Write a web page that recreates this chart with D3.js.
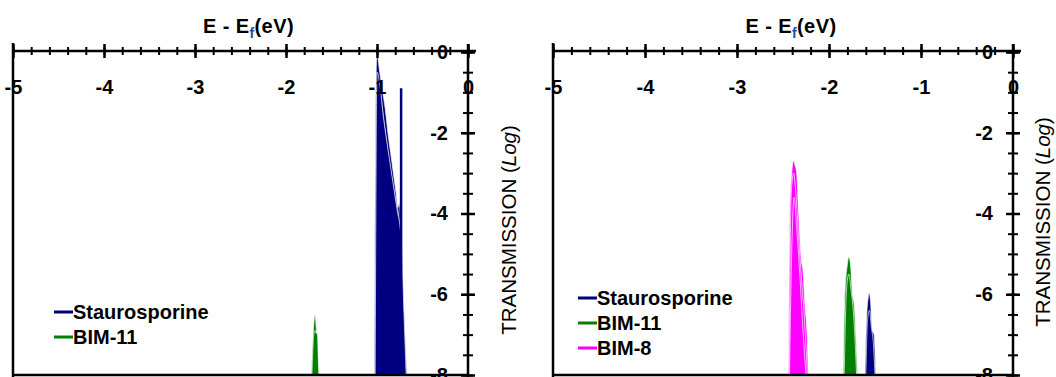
<!DOCTYPE html>
<html>
<head>
<meta charset="utf-8">
<script src="https://cdn.jsdelivr.net/npm/d3@7"></script>
<style>
  html, body { margin: 0; padding: 0; background: #fff; }
  svg { display: block; }
  text { font-family: Arial, 'Liberation Sans', sans-serif; }
</style>
</head>
<body>
<svg id="chart" width="1056" height="377"></svg>
<script>
// tick values and labels
const xMajor = [-5, -4, -3, -2, -1, 0];
const xMinor = d3.range(-50, 1, 2).map(d => d / 10);
const yMajor = [0, -2, -4, -6, -8];
const yMinor = d3.range(-16, 1).map(d => d / 2);

const legendLeft = ['Staurosporine', 'BIM-11'];
const legendRight = ['Staurosporine', 'BIM-11', 'BIM-8'];
const colorOf = {'Staurosporine': '#000080', 'BIM-11': '#008000', 'BIM-8': '#ff00ff'};

// left panel curves: [E - Ef, log T]
const stauroLeftA = [[-1.03,-8],[-1.02,-3],[-1.01,-0.6],[-1.0,-0.05],[-0.97,-0.5],[-0.93,-1.1],[-0.91,-1.4],[-0.88,-2.0],[-0.85,-2.5],[-0.82,-3.0],[-0.79,-3.5],[-0.77,-3.85],[-0.755,-3.75],[-0.74,-4.2],[-0.72,-5.2],[-0.70,-6.5],[-0.67,-8]];
const stauroLeftB = [[-1.02,-8],[-1.0,-0.5],[-0.97,-0.8],[-0.93,-1.6],[-0.88,-2.4],[-0.82,-3.3],[-0.78,-3.9],[-0.74,-4.5],[-0.70,-6.7],[-0.68,-8]];
const stauroLeftC = [[-1.025,-8],[-1.01,-1.0],[-0.98,-0.9],[-0.92,-1.8],[-0.86,-2.8],[-0.80,-3.6],[-0.76,-4.1],[-0.72,-5.5],[-0.69,-8]];
const stauroLeftSpike = [[-0.735,-8],[-0.735,-0.9]];
const bim11LeftA = [[-1.722,-8],[-1.70,-6.9],[-1.69,-6.6],[-1.681,-6.5],[-1.672,-6.7],[-1.66,-7.1],[-1.65,-7.5],[-1.635,-8]];
const bim11LeftB = [[-1.715,-8],[-1.695,-7.0],[-1.68,-6.9],[-1.665,-6.97],[-1.655,-6.97],[-1.645,-7.6],[-1.64,-8]];

// right panel curves
const bim8RightA = [[-2.442,-8],[-2.424,-3.83],[-2.405,-3.0],[-2.388,-2.69],[-2.37,-2.8],[-2.351,-3.0],[-2.33,-4.0],[-2.304,-5.07],[-2.28,-5.5],[-2.261,-6.3],[-2.24,-6.9],[-2.225,-8]];
const bim8RightB = [[-2.435,-8],[-2.41,-3.5],[-2.385,-3.0],[-2.36,-3.5],[-2.33,-4.6],[-2.30,-5.6],[-2.27,-6.5],[-2.235,-8]];
const bim8RightC = [[-2.43,-8],[-2.40,-4.5],[-2.38,-3.6],[-2.35,-4.4],[-2.31,-5.8],[-2.28,-7.0],[-2.25,-8]];
const bim11RightA = [[-1.845,-8],[-1.83,-6.2],[-1.80,-5.25],[-1.783,-5.07],[-1.765,-5.3],[-1.745,-6.0],[-1.725,-6.3],[-1.71,-6.96],[-1.69,-8]];
const bim11RightB = [[-1.835,-8],[-1.81,-5.9],[-1.785,-5.5],[-1.76,-5.9],[-1.73,-6.6],[-1.70,-8]];
const stauroRightA = [[-1.609,-8],[-1.595,-6.8],[-1.575,-6.1],[-1.562,-5.97],[-1.548,-6.2],[-1.53,-6.9],[-1.51,-7.0],[-1.50,-7.4],[-1.492,-8]];
const stauroRightB = [[-1.60,-8],[-1.58,-6.6],[-1.56,-6.4],[-1.54,-6.8],[-1.515,-7.3],[-1.50,-8]];

const svg = d3.select('#chart');
const plotTop = 51, plotBottom = 375;
const fmt = d => String(d); // plain hyphen minus like the original

function drawPanel(x0, x1, id, areas, spikes, legend, legendX, legendY, ylabX, ylabY) {
  const x = d3.scaleLinear().domain([-5, 0]).range([x0, x1]);
  const y = d3.scaleLinear().domain([-8, 0]).range([plotBottom, plotTop + 1]);
  const g = svg.append('g');

  g.append('clipPath').attr('id', id).append('rect')
    .attr('x', x0).attr('y', plotTop).attr('width', x1 - x0).attr('height', plotBottom - plotTop);

  const area = d3.area()
    .x(d => x(d[0])).y0(y(-8)).y1(d => y(d[1]))
    .curve(d3.curveMonotoneX);

  const plot = g.append('g').attr('clip-path', `url(#${id})`);
  plot.selectAll('path.curve')
    .data(areas).join('path')
    .attr('class', 'curve')
    .attr('d', d => area(d.pts))
    .attr('fill', d => colorOf[d.name])
    .attr('stroke', '#fff')
    .attr('stroke-width', 0.7);

  plot.selectAll('line.spike')
    .data(spikes).join('line')
    .attr('class', 'spike')
    .attr('x1', d => x(d.pts[0][0])).attr('x2', d => x(d.pts[1][0]))
    .attr('y1', d => y(d.pts[0][1])).attr('y2', d => y(d.pts[1][1]))
    .attr('stroke', d => colorOf[d.name]).attr('stroke-width', 2.5);

  // frame
  const frame = g.append('g').attr('stroke', '#000').attr('stroke-width', 2.5);
  frame.append('line').attr('x1', x0).attr('x2', x0).attr('y1', 43).attr('y2', 377);
  frame.append('line').attr('x1', x0).attr('x2', x1).attr('y1', plotBottom).attr('y2', plotBottom);
  frame.append('line').attr('x1', x0).attr('x2', x1 + 8).attr('y1', plotTop).attr('y2', plotTop);
  frame.append('line').attr('x1', x1).attr('x2', x1).attr('y1', 44).attr('y2', 377);

  // top x axis, ticks crossing the line
  const xMin = g.append('g').attr('transform', `translate(0,${plotTop})`)
    .call(d3.axisBottom(x).tickValues(xMinor).tickFormat('').tickSizeOuter(0));
  xMin.selectAll('.tick line').attr('y1', -4).attr('y2', 4).attr('stroke-width', 2);
  const xMaj = g.append('g').attr('transform', `translate(0,${plotTop})`)
    .call(d3.axisBottom(x).tickValues(xMajor).tickFormat(fmt).tickSizeOuter(0));
  xMaj.selectAll('.tick line').attr('y1', -7).attr('y2', 7).attr('stroke-width', 2.5);
  xMaj.selectAll('.tick text').attr('y', 29).attr('dy', '0.71em')
    .style('font-size', '20px').style('font-weight', 'bold').attr('fill', '#000');
  g.selectAll('.domain').remove();

  // right y axis
  const yMin = g.append('g').attr('transform', `translate(${x1},0)`)
    .call(d3.axisLeft(y).tickValues(yMinor).tickFormat('').tickSizeOuter(0));
  yMin.selectAll('.tick line').attr('x1', -5).attr('x2', 5).attr('stroke-width', 2);
  const yMaj = g.append('g').attr('transform', `translate(${x1},0)`)
    .call(d3.axisLeft(y).tickValues(yMajor).tickFormat(fmt).tickSize(7).tickPadding(13).tickSizeOuter(0));
  yMaj.selectAll('.tick line').attr('x1', -7).attr('x2', 7).attr('stroke-width', 2.5);
  yMaj.selectAll('.tick text')
    .style('font-size', '20px').style('font-weight', 'bold').attr('fill', '#000');
  g.selectAll('.domain').remove();

  // title
  const t = g.append('text')
    .attr('x', (x0 + x1) / 2 + 8).attr('y', 33)
    .attr('text-anchor', 'middle')
    .style('font-size', '20px').style('font-weight', 'bold')
    .style('letter-spacing', '0.4px');
  t.append('tspan').text('E - E');
  t.append('tspan').text('f').attr('dy', 5).style('font-size', '14px').attr('fill', '#1f4f9c');
  t.append('tspan').text('(eV)').attr('dy', -5);

  // y label
  const yl = g.append('text')
    .attr('transform', `translate(${ylabX},${ylabY}) rotate(-90)`)
    .attr('text-anchor', 'middle')
    .style('font-size', '20.5px');
  yl.append('tspan').text('TRANSMISSION (');
  yl.append('tspan').text('Log').style('font-style', 'italic');
  yl.append('tspan').text(')');

  // legend
  const lg = g.append('g').selectAll('g')
    .data(legend).join('g')
    .attr('transform', (d, i) => `translate(${legendX},${legendY + i * 25})`);
  lg.append('line').attr('x1', 0).attr('x2', 19)
    .attr('stroke', d => colorOf[d]).attr('stroke-width', 3);
  lg.append('text').attr('x', 19).attr('dy', '0.36em')
    .style('font-size', '20px').style('font-weight', 'bold')
    .text(d => d);
}

drawPanel(13, 468, 'clipL',
  [
    {name: 'Staurosporine', pts: stauroLeftA},
    {name: 'Staurosporine', pts: stauroLeftC},
    {name: 'Staurosporine', pts: stauroLeftB},
    {name: 'BIM-11', pts: bim11LeftA},
    {name: 'BIM-11', pts: bim11LeftB}
  ],
  [{name: 'Staurosporine', pts: stauroLeftSpike}],
  legendLeft, 54, 312, 516, 230);

drawPanel(553, 1013, 'clipR',
  [
    {name: 'BIM-8', pts: bim8RightA},
    {name: 'BIM-8', pts: bim8RightB},
    {name: 'BIM-8', pts: bim8RightC},
    {name: 'BIM-11', pts: bim11RightA},
    {name: 'BIM-11', pts: bim11RightB},
    {name: 'Staurosporine', pts: stauroRightA},
    {name: 'Staurosporine', pts: stauroRightB}
  ],
  [],
  legendRight, 578, 298, 1050, 222);
</script>
</body>
</html>
